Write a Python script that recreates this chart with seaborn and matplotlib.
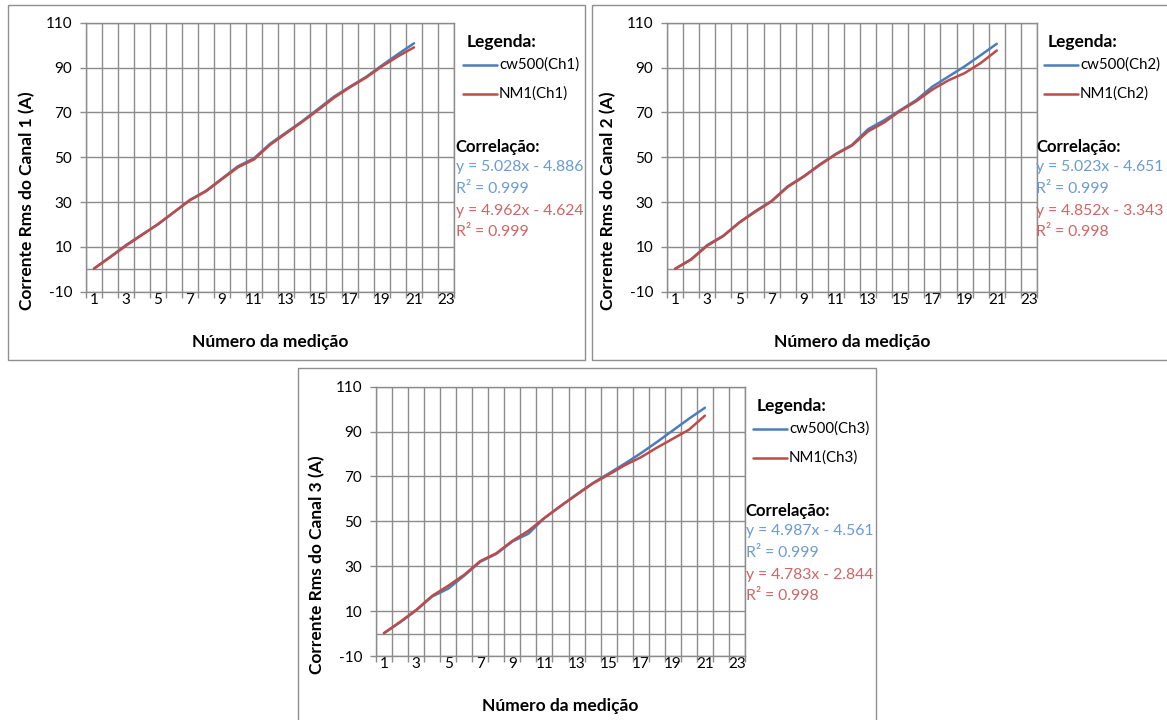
import numpy as np
import pandas as pd
import matplotlib
matplotlib.use("Agg")
import matplotlib.pyplot as plt
import seaborn as sns
from matplotlib.lines import Line2D
from matplotlib.patches import Rectangle

# ---------------- data ----------------
medicao = list(range(1, 22))

cw500_ch1 = [0.3, 5.5, 10.8, 15.5, 20.0, 25.5, 31.0, 35.0, 40.5, 46.0, 49.5,
             56.0, 61.0, 66.0, 71.5, 77.0, 81.5, 85.8, 91.0, 96.0, 100.8]
nm1_ch1 = [0.3, 5.3, 10.5, 15.3, 20.2, 25.5, 30.8, 34.8, 40.2, 45.5, 49.0,
           55.5, 60.6, 65.7, 71.0, 76.5, 81.2, 85.5, 90.5, 95.0, 99.0]

cw500_ch2 = [0.2, 4.5, 10.8, 15.0, 21.0, 26.0, 30.5, 37.0, 41.5, 46.8, 51.5,
             55.5, 62.5, 66.5, 71.0, 75.5, 81.5, 86.0, 90.5, 95.5, 100.6]
nm1_ch2 = [0.2, 4.3, 10.5, 14.8, 20.8, 25.7, 30.3, 36.7, 41.3, 46.5, 51.3,
           55.2, 61.5, 65.5, 70.7, 75.0, 80.2, 84.3, 87.5, 92.0, 97.6]

cw500_ch3 = [0.2, 5.0, 10.3, 16.5, 20.0, 25.8, 32.0, 35.5, 41.0, 44.5, 51.5,
             56.8, 62.0, 67.0, 71.3, 75.7, 80.3, 85.3, 90.5, 95.7, 100.6]
nm1_ch3 = [0.2, 5.2, 10.5, 16.8, 21.3, 26.2, 32.3, 35.8, 41.3, 45.8, 51.5,
           56.8, 61.8, 66.8, 70.8, 75.0, 78.5, 82.8, 86.8, 90.8, 97.1]

y_ticks = [-10, 10, 30, 50, 70, 90, 110]
x_ticks = list(range(1, 24, 2))

eq_cw500 = ["y = 5.028x - 4.886", "y = 5.023x - 4.651", "y = 4.987x - 4.561"]
r2_cw500 = ["R² = 0.999", "R² = 0.999", "R² = 0.999"]
eq_nm1 = ["y = 4.962x - 4.624", "y = 4.852x - 3.343", "y = 4.783x - 2.844"]
r2_nm1 = ["R² = 0.999", "R² = 0.998", "R² = 0.998"]

series = [(cw500_ch1, nm1_ch1), (cw500_ch2, nm1_ch2), (cw500_ch3, nm1_ch3)]

# ---------------- style ----------------
W, H = 1167, 720
sns.set_theme(style="white")
plt.rcParams["font.family"] = ["Lato", "DejaVu Sans"]
plt.rcParams["axes.unicode_minus"] = False

BLUE = "#4a7ebb"
RED = "#be4b48"
BLUE_TXT = "#6a9bd3"
RED_TXT = "#cf6565"
GRID = "#8c8c8c"
BORDER = "#8f8f8f"

fig = plt.figure(figsize=(W / 100, H / 100), dpi=100)
fig.patch.set_facecolor("white")


def fx(x):
    return x / W


def fy(y):
    return 1 - y / H


# (box x0, y0, x1, y1), (axes left, top, right, bottom) in pixels
layout = [
    ((8, 5, 585, 360), (86, 22.7, 454, 291.7)),
    ((592, 5, 1185, 360), (667, 22.7, 1037, 291.7)),
    ((298, 368, 876, 740), (376, 386.7, 745, 656)),
]

for k, ((bx0, by0, bx1, by1), (l, t, r, b)) in enumerate(layout):
    ch = k + 1
    fig.add_artist(Rectangle((fx(bx0), fy(by1)), (bx1 - bx0) / W, (by1 - by0) / H,
                             transform=fig.transFigure, fill=False,
                             ec=BORDER, lw=1.0, zorder=0))
    ax = fig.add_axes([fx(l), fy(b), (r - l) / W, (b - t) / H])
    ax.set_facecolor("white")

    cw, nm = series[k]
    lab_cw = f"cw500(Ch{ch})"
    lab_nm = f"NM1(Ch{ch})"
    df = pd.DataFrame({
        "medicao": medicao * 2,
        "corrente": cw + nm,
        "serie": [lab_cw] * len(cw) + [lab_nm] * len(nm),
    })
    sns.lineplot(data=df, x="medicao", y="corrente", hue="serie",
                 palette={lab_cw: BLUE, lab_nm: RED}, lw=1.8, ax=ax,
                 legend=False, zorder=3)

    ax.set_xlim(0.5, 23.5)
    ax.set_ylim(-10, 110)
    ax.set_yticks(y_ticks)
    ax.set_xticks(x_ticks)
    ax.set_xticks(np.arange(0.5, 24, 1), minor=True)
    ax.grid(False)
    ax.grid(which="major", axis="y", color=GRID, lw=1.0)
    ax.grid(which="minor", axis="x", color=GRID, lw=1.0)
    ax.axhline(0, color=GRID, lw=1.0, zorder=1)
    ax.set_axisbelow(True)
    for s in ax.spines.values():
        s.set_color(GRID)
        s.set_linewidth(1.0)
    ax.tick_params(axis="y", which="major", length=4, width=1, color=GRID,
                   left=True, pad=6, labelsize=11, labelcolor="black")
    ax.tick_params(axis="x", which="major", length=0, pad=1, labelsize=11,
                   labelcolor="black")
    ax.tick_params(axis="x", which="minor", length=4, width=1, color=GRID,
                   bottom=True, direction="out")

    ax.set_ylabel(f"Corrente Rms do Canal {ch} (A)", fontsize=12.5,
                  fontweight="bold", color="black", va="center")
    ax.yaxis.set_label_coords(-59 / (r - l), (b - (t + 178)) / (b - t))
    ax.set_xlabel("Número da medição", fontsize=12.5, fontweight="bold",
                  color="black", va="center")
    ax.xaxis.set_label_coords(0.5, -50 / (b - t))

    # legend
    fig.text(fx(l + 381), fy(t + 19), "Legenda:", fontsize=12.5,
             fontweight="bold", va="center", ha="left", color="black")
    for yy, col, lab in [(t + 42.3, BLUE, lab_cw), (t + 71.3, RED, lab_nm)]:
        fig.add_artist(Line2D([fx(l + 377), fx(l + 411)], [fy(yy), fy(yy)],
                              transform=fig.transFigure, color=col, lw=1.8))
        fig.text(fx(l + 413), fy(yy), lab, fontsize=10.8, va="center",
                 ha="left", color="black")

    # correlation
    fig.text(fx(l + 369.5), fy(t + 124), "Correlação:", fontsize=12,
             fontweight="bold", va="center", ha="left", color="black")
    lines = [(eq_cw500[k], BLUE_TXT), (r2_cw500[k], BLUE_TXT),
             (eq_nm1[k], RED_TXT), (r2_nm1[k], RED_TXT)]
    for i, (txt, col) in enumerate(lines):
        fig.text(fx(l + 369.5), fy(t + 144 + i * 21.9), txt, fontsize=11.3,
                 va="center", ha="left", color=col)

fig.savefig("out.png", dpi=100, facecolor="white")
